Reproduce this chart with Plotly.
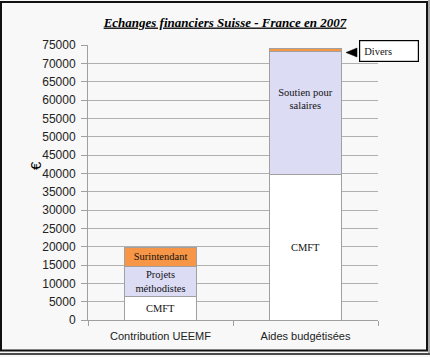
import plotly.graph_objects as go

categories = ["Contribution UEEMF", "Aides budgétisées"]
base_values = [6300, 39800]
base_labels = ["CMFT", "CMFT"]
middle_values = [8400, 33500]
middle_labels = ["Projets<br>méthodistes", "Soutien pour<br>salaires<br> <br> "]
top_values = [5100, 700]
top_labels = ["Surintendant", ""]
callout_label = "Divers"
y_ticks = list(range(0, 75001, 5000))
y_tick_text = [str(v) for v in y_ticks]

W, H = 430, 357
L, R, T, B = 88, 52, 45, 37
PW, PH = W - L - R, H - T - B


def px_x(px):
    return (px - L) / PW


def px_y(py):
    return (H - B - py) / PH


serif = "Liberation Serif, Times New Roman, serif"
sans = "Liberation Sans, Arial, sans-serif"
edge = dict(color="#a0a0a0", width=1)

fig = go.Figure()
for vals, labels, color in [
    (base_values, base_labels, "#ffffff"),
    (middle_values, middle_labels, "#dcdcf5"),
    (top_values, top_labels, "#f79646"),
]:
    fig.add_trace(go.Bar(
        x=categories, y=vals, text=labels, width=0.5,
        marker=dict(color=color, line=edge),
        textposition="inside", insidetextanchor="middle",
        textfont=dict(family=serif, size=10.5, color="#111111"),
        hoverinfo="skip", showlegend=False,
    ))

# Divers callout
fig.add_annotation(
    xref="paper", yref="paper", x=px_x(389), y=px_y(51),
    text=callout_label, showarrow=False,
    font=dict(family=serif, size=10.5, color="#111111"),
    bgcolor="#ffffff", bordercolor="#000000", borderwidth=1.2,
    width=50, height=12, borderpad=4, align="left",
    xanchor="center", yanchor="middle",
)
fig.add_shape(
    type="path", xref="paper", yref="paper",
    path="M {} {} L {} {} L {} {} Z".format(
        px_x(346), px_y(52.5), px_x(357), px_y(48), px_x(357), px_y(57)),
    fillcolor="#000000", line=dict(color="#000000", width=0.5),
)

# euro axis label
fig.add_annotation(
    xref="paper", yref="paper", x=px_x(35), y=px_y(166),
    xanchor="center", yanchor="middle",
    text="€", showarrow=False, textangle=-90,
    font=dict(family=sans, size=15, color="#000000"),
)

# outer frame
fig.add_shape(type="rect", xref="paper", yref="paper",
              x0=px_x(1), x1=px_x(427), y0=px_y(350.5), y1=px_y(2),
              line=dict(color="#111111", width=2), layer="above")
fig.add_shape(type="line", xref="paper", yref="paper",
              x0=px_x(0), x1=px_x(430), y0=px_y(354), y1=px_y(354),
              line=dict(color="#111111", width=1.5), layer="above")
fig.add_shape(type="line", xref="paper", yref="paper",
              x0=px_x(429), x1=px_x(429), y0=px_y(354), y1=px_y(0),
              line=dict(color="#555555", width=1), layer="above")

fig.update_layout(
    width=W, height=H,
    margin=dict(l=L, r=R, t=T, b=B, pad=0),
    barmode="stack", bargap=0.5,
    paper_bgcolor="#f8f8f8", plot_bgcolor="#f8f8f8",
    uniformtext=dict(mode="show", minsize=10.5),
    title=dict(
        text="<b><i><u>Echanges financiers Suisse - France en 2007</u></i></b>",
        font=dict(family=serif, size=13, color="#000000"),
        x=225 / W, xanchor="center", xref="container",
        y=1 - 22 / H, yanchor="middle", yref="container",
    ),
    yaxis=dict(
        range=[0, 75000], tickvals=y_ticks, ticktext=y_tick_text,
        showgrid=True, gridcolor="#b0b0b0", gridwidth=1,
        showline=True, linecolor="#a0a0a0", linewidth=1,
        ticks="outside", ticklen=6, tickcolor="#a0a0a0",
        ticklabelstandoff=3,
        tickfont=dict(family=sans, size=12, color="#222222"),
        zeroline=False,
    ),
    xaxis=dict(
        showline=True, linecolor="#a0a0a0", linewidth=1,
        ticks="outside", ticklen=5, tickcolor="#a0a0a0",
        tickson="boundaries", ticklabelstandoff=6,
        tickfont=dict(family=sans, size=11, color="#222222"),
    ),
)

fig.write_html("out.html")
